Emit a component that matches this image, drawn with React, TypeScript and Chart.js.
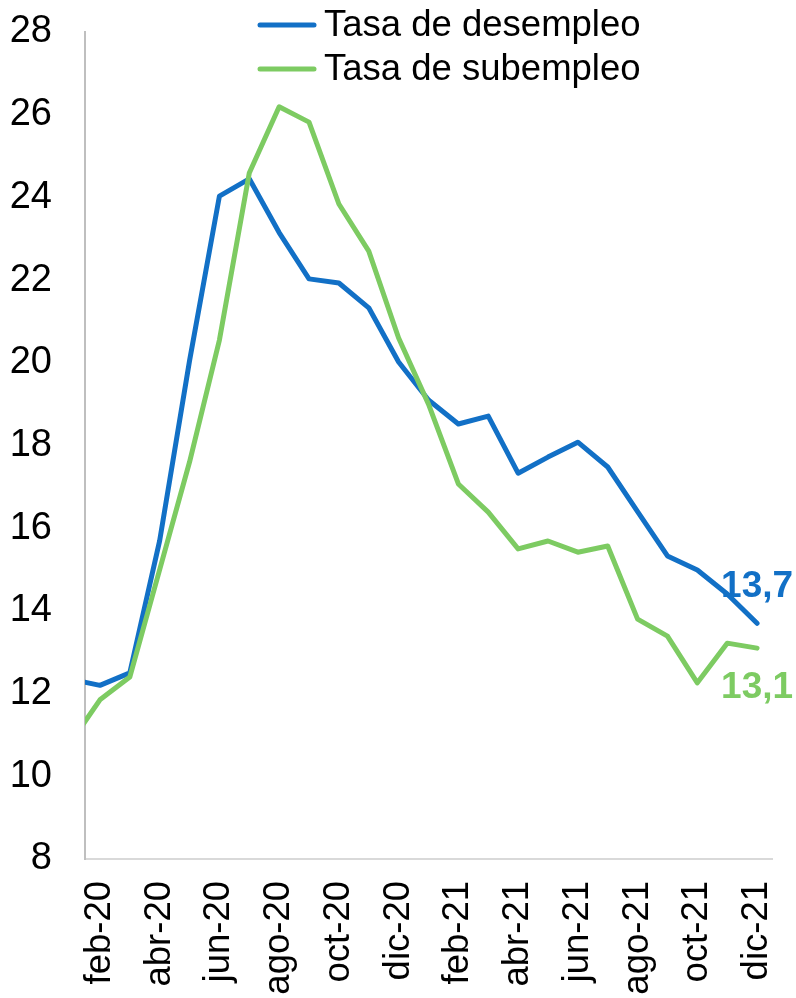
import React, { useEffect, useRef } from "react";
import { Chart, registerables } from "chart.js";

Chart.register(...registerables);

const months = [
  "ene-20", "feb-20", "mar-20", "abr-20", "may-20", "jun-20", "jul-20", "ago-20",
  "sep-20", "oct-20", "nov-20", "dic-20", "ene-21", "feb-21", "mar-21", "abr-21",
  "may-21", "jun-21", "jul-21", "ago-21", "sep-21", "oct-21", "nov-21", "dic-21",
];

const desempleo = [
  12.35, 12.2, 12.5, 15.7, 20.05, 24.03, 24.45, 23.15, 22.03, 21.93, 21.33, 20.02,
  19.1, 18.52, 18.71, 17.33, 17.72, 18.08, 17.48, 16.4, 15.33, 14.99, 14.41, 13.7,
];

const subempleo = [
  10.8, 11.85, 12.4, 15.0, 17.6, 20.55, 24.59, 26.19, 25.82, 23.84, 22.7, 20.6,
  19.0, 17.07, 16.39, 15.5, 15.69, 15.42, 15.57, 13.8, 13.39, 12.26, 13.22, 13.1,
];

const seriesNames = ["Tasa de desempleo", "Tasa de subempleo"];
const endLabels = ["13,7", "13,1"];
const firstVisible = "feb-20";

const BLUE = "#1270c6";
const GREEN = "#7dcb62";
const FONT = '"Liberation Sans", Arial, sans-serif';

const overlayPlugin = {
  id: "overlay",
  afterDraw(chart: any) {
    const ctx = chart.ctx;
    ctx.save();
    // legend
    const colors = [BLUE, GREEN];
    const rows = [25, 69];
    seriesNames.forEach((name, i) => {
      ctx.strokeStyle = colors[i];
      ctx.lineWidth = 5;
      ctx.lineCap = "round";
      ctx.beginPath();
      ctx.moveTo(260, rows[i]);
      ctx.lineTo(314, rows[i]);
      ctx.stroke();
      ctx.fillStyle = "#000";
      ctx.font = `36.5px ${FONT}`;
      ctx.textAlign = "left";
      ctx.textBaseline = "middle";
      ctx.fillText(name, 324, rows[i] + 1);
    });
    // end labels
    const offsets = [-37, 40];
    chart.data.datasets.forEach((ds: any, i: number) => {
      const meta = chart.getDatasetMeta(i);
      const pt = meta.data[meta.data.length - 1];
      ctx.font = `bold 37px ${FONT}`;
      ctx.fillStyle = colors[i];
      ctx.textAlign = "center";
      ctx.textBaseline = "middle";
      ctx.fillText(endLabels[i], pt.x, pt.y + offsets[i]);
    });
    ctx.restore();
  },
};

export default function App() {
  const ref = useRef<HTMLCanvasElement>(null);
  useEffect(() => {
    if (!ref.current) return;
    const chart = new Chart(ref.current, {
      type: "line",
      data: {
        labels: months,
        datasets: [
          {
            label: seriesNames[0],
            data: desempleo,
            borderColor: BLUE,
            borderWidth: 5,
            pointRadius: 0,
            tension: 0,
            borderJoinStyle: "round",
            borderCapStyle: "round",
            fill: false,
            order: 1,
          },
          {
            label: seriesNames[1],
            data: subempleo,
            borderColor: GREEN,
            borderWidth: 5,
            pointRadius: 0,
            tension: 0,
            borderJoinStyle: "round",
            borderCapStyle: "round",
            fill: false,
            order: 0,
          },
        ],
      },
      options: {
        responsive: false,
        animation: false,
        layout: { padding: { top: 32, right: 24, left: 0, bottom: 0 } },
        plugins: {
          legend: { display: false },
          tooltip: { enabled: false },
        },
        scales: {
          x: {
            type: "category",
            min: firstVisible,
            offset: true,
            grid: { display: false, drawTicks: false },
            border: { display: true, color: "#d9d9d9", width: 2 },
            ticks: {
              autoSkip: false,
              minRotation: 90,
              maxRotation: 90,
              padding: 22,
              color: "#000",
              font: { family: FONT, size: 36.5 },
              callback: function (value: any) {
                const idx = Number(value);
                return (idx - 1) % 2 === 0 ? months[idx] : "";
              },
            },
            afterFit: (scale: any) => {
              scale.height = 139;
              scale.paddingLeft = 0;
              scale.paddingRight = 0;
              scale.paddingTop = 0;
              scale.paddingBottom = 0;
            },
          },
          y: {
            min: 8,
            max: 28,
            grid: { display: false, drawTicks: false },
            border: { display: true, color: "#bfbfbf", width: 2 },
            ticks: {
              stepSize: 2,
              padding: 33,
              color: "#000",
              font: { family: FONT, size: 38 },
            },
            afterFit: (scale: any) => {
              scale.width = 85;
              scale.paddingTop = 0;
              scale.paddingBottom = 0;
              scale.paddingLeft = 0;
              scale.paddingRight = 0;
            },
          },
        },
      },
      plugins: [overlayPlugin],
    } as any);
    return () => chart.destroy();
  }, []);
  return (
    <canvas
      ref={ref}
      width={796}
      height={998}
      style={{ position: "absolute", left: 0, top: 0, width: 796, height: 998 }}
    />
  );
}
